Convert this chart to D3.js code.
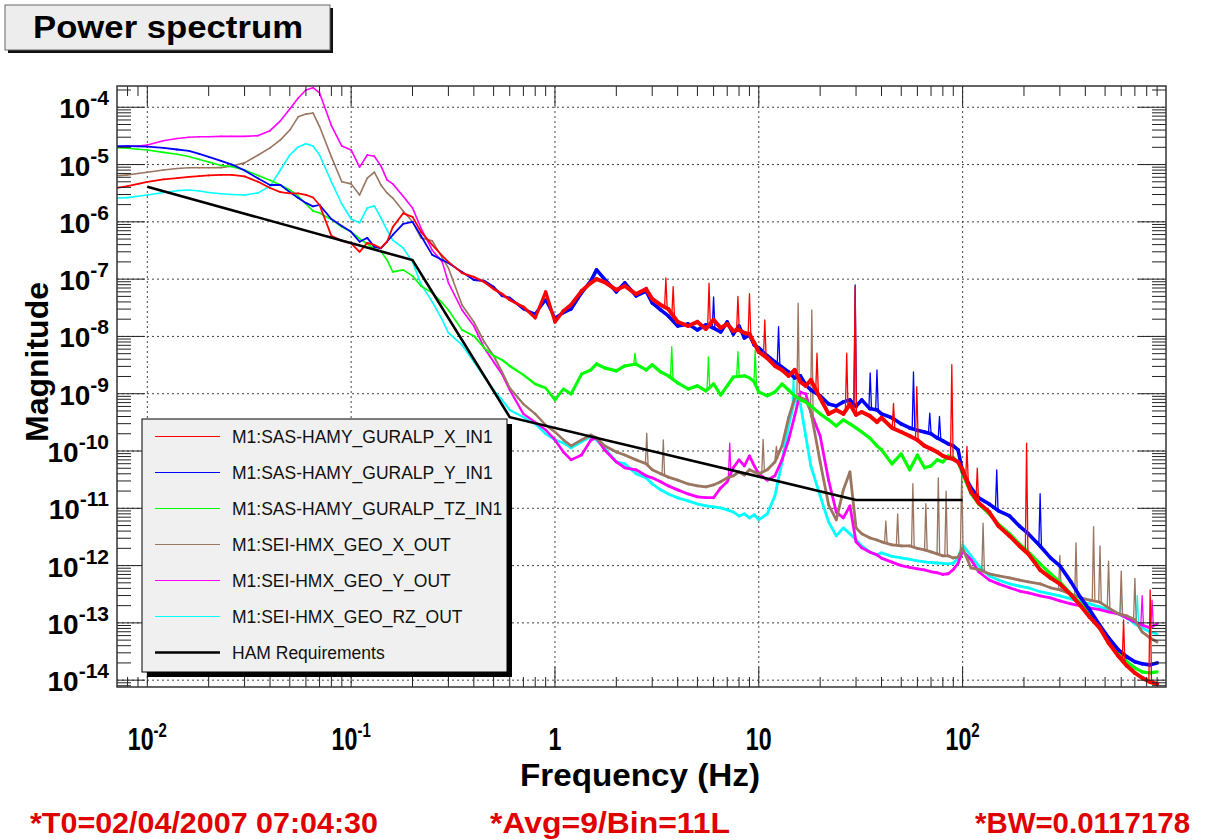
<!DOCTYPE html>
<html>
<head>
<meta charset="utf-8">
<title>Power spectrum</title>
<script src="https://cdn.jsdelivr.net/npm/d3@7"></script>
<style>
  html, body { margin: 0; padding: 0; background: #fff; }
  svg { display: block; font-family: "Liberation Sans", Arial, Helvetica, sans-serif; }
</style>
</head>
<body>
<svg id="chart" width="1210" height="840"></svg>
<script>
(function () {
  'use strict';

  // Frequency grid shared by the six measured spectra (Hz)
  var freq = [
    0.0071, 0.008, 0.009, 0.01, 0.012, 0.014, 0.016, 0.018, 0.02, 0.023, 0.026, 0.03, 0.035, 0.04, 0.045, 0.05, 0.055, 0.06, 0.065, 0.07, 0.08, 0.09, 0.1, 0.11, 0.12, 0.13, 0.14, 0.15, 0.16, 0.18, 0.2, 0.22, 0.25, 0.28, 0.3,
    0.35, 0.4, 0.45, 0.5, 0.55, 0.6, 0.7, 0.8, 0.9, 1, 1.1, 1.2, 1.35, 1.5, 1.6, 1.75, 2, 2.2, 2.5, 2.8, 3, 3.3, 3.6, 4, 4.5, 5, 5.5, 6, 6.5, 7, 7.5, 8, 8.5, 9, 9.5,
    10, 11, 12, 13, 14, 15, 16, 17, 18, 20, 22, 24, 26, 28, 30, 32, 35, 38, 40, 45, 50, 55, 60, 65, 70, 75, 80, 85, 90, 95, 100,
    110, 120, 135, 150, 170, 190, 210, 240, 270, 300, 340, 380, 420, 470, 520, 580, 640, 700, 760, 830, 900
  ];

  var magXIn1 = [
    3.9e-6, 4.2e-6, 4.6e-6, 5.0e-6, 5.5e-6, 5.8e-6, 6.1e-6, 6.3e-6, 6.45e-6, 6.6e-6, 6.6e-6, 6.2e-6, 5.0e-6, 3.9e-6, 3.3e-6, 3.15e-6, 3.15e-6, 2.95e-6, 2.66e-6, 1.97e-6, 5.7e-7, 4.65e-7, 4.2e-7, 3.0e-7, 4.3e-7, 3.95e-7, 3.5e-7, 4.5e-7, 8.1e-7, 1.41e-6, 1.22e-6, 6.7e-7, 3.95e-7, 2.55e-7, 2.0e-7,
    1.28e-7, 1.09e-7, 8.9e-8, 6.75e-8, 5.5e-8, 4.35e-8, 3.27e-8, 2.1e-8, 6.0e-8, 1.79e-8, 2.8e-8, 3.6e-8, 6.2e-8, 8.6e-8, 1.0e-7, 8.9e-8, 6.5e-8, 7.6e-8, 5.5e-8, 6.75e-8, 4.5e-8, 3.55e-8, 3.0e-8, 1.79e-8, 1.52e-8, 1.79e-8, 1.35e-8, 1.94e-8, 1.41e-8, 1.65e-8, 1.25e-8, 1.3e-8, 1.15e-8, 1.1e-8, 7.7e-9,
    5.35e-9, 4.2e-9, 3.05e-9, 2.6e-9, 2.05e-9, 2.6e-9, 1.61e-9, 1.37e-9, 1.74e-9, 8.4e-10, 4.45e-10, 5.2e-10, 4.45e-10, 6.6e-10, 4.3e-10, 4.8e-10, 4.1e-10, 3.2e-10, 3.8e-10, 2.53e-10, 2.15e-10, 1.83e-10, 1.56e-10, 1.23e-10, 1.09e-10, 9.6e-11, 8.2e-11, 7.6e-11, 7.2e-11, 6.45e-11, 4.7e-11,
    1.93e-11, 1.24e-11, 8.6e-12, 4.9e-12, 3.3e-12, 2.2e-12, 1.6e-12, 8.4e-13, 6.1e-13, 4.8e-13, 3.08e-13, 1.98e-13, 1.27e-13, 8.2e-14, 4.5e-14, 2.65e-14, 1.78e-14, 1.34e-14, 1.1e-14, 9.3e-15, 8.6e-15
  ];

  var magYIn1 = [
    2.1e-5, 2.1e-5, 2.08e-5, 2.05e-5, 1.95e-5, 1.83e-5, 1.73e-5, 1.53e-5, 1.36e-5, 1.16e-5, 1.0e-5, 7.9e-6, 5.7e-6, 4.4e-6, 4.4e-6, 3.3e-6, 2.6e-6, 2.14e-6, 1.86e-6, 1.97e-6, 1.12e-6, 8.5e-7, 6.7e-7, 4.5e-7, 5.25e-7, 3.65e-7, 3.45e-7, 4.5e-7, 5.9e-7, 9.2e-7, 1.0e-6, 5.7e-7, 2.65e-7, 2.16e-7, 1.92e-7,
    1.33e-7, 9.7e-8, 9.3e-8, 7.3e-8, 5.1e-8, 4.7e-8, 3.0e-8, 2.47e-8, 4.35e-8, 2.1e-8, 2.6e-8, 3.0e-8, 5.75e-8, 9.3e-8, 1.45e-7, 1.0e-7, 6.0e-8, 8.6e-8, 5.1e-8, 6.2e-8, 3.85e-8, 2.9e-8, 2.28e-8, 1.52e-8, 1.65e-8, 1.3e-8, 1.59e-8, 1.4e-8, 1.2e-8, 1.79e-8, 1.1e-8, 1.52e-8, 9.4e-9, 1.06e-8, 7.1e-9,
    6.3e-9, 4.6e-9, 3.6e-9, 2.9e-9, 2.4e-9, 1.89e-9, 2.05e-9, 1.42e-9, 1.16e-9, 9.2e-10, 6.6e-10, 6.1e-10, 7.2e-10, 7.8e-10, 6.0e-10, 7.8e-10, 5.5e-10, 5.2e-10, 4.45e-10, 3.8e-10, 2.97e-10, 2.53e-10, 2.3e-10, 2.15e-10, 2.0e-10, 1.69e-10, 1.5e-10, 1.33e-10, 1.23e-10, 1.05e-10, 4.3e-11,
    2.27e-11, 1.52e-11, 1.19e-11, 9.0e-12, 7.35e-12, 4.9e-12, 3.6e-12, 2.2e-12, 1.36e-12, 9.9e-13, 5.2e-13, 2.73e-13, 1.69e-13, 9.2e-14, 5.5e-14, 3.4e-14, 2.55e-14, 2.09e-14, 1.93e-14, 1.85e-14, 2.0e-14
  ];

  var magTzIn1 = [
    1.97e-5, 1.93e-5, 1.85e-5, 1.8e-5, 1.63e-5, 1.51e-5, 1.38e-5, 1.23e-5, 1.11e-5, 9.6e-6, 9.2e-6, 8.05e-6, 6.45e-6, 5.3e-6, 4.4e-6, 3.6e-6, 2.8e-6, 2.05e-6, 1.55e-6, 1.43e-6, 1.1e-6, 8.1e-7, 6.7e-7, 5.1e-7, 4.1e-7, 3.4e-7, 3.05e-7, 2.16e-7, 1.34e-7, 1.45e-7, 1.14e-7, 7.6e-8, 5.75e-8, 3.85e-8, 2.9e-8,
    1.3e-8, 1.02e-8, 6.3e-9, 4.6e-9, 3.9e-9, 3.05e-9, 2.13e-9, 1.48e-9, 1.26e-9, 7.8e-10, 1.21e-9, 9.9e-10, 2.2e-9, 2.6e-9, 3.3e-9, 2.82e-9, 2.5e-9, 3.05e-9, 3.3e-9, 2.6e-9, 3.2e-9, 2.4e-9, 2.05e-9, 1.54e-9, 1.21e-9, 1.37e-9, 1.12e-9, 1.48e-9, 9.5e-10, 1.37e-9, 1.96e-9, 2.0e-9, 2.05e-9, 1.89e-9, 1.61e-9,
    1.07e-9, 9.2e-10, 1.07e-9, 1.48e-9, 1.16e-9, 9.2e-10, 7.8e-10, 7.2e-10, 6.1e-10, 4.45e-10, 3.5e-10, 2.74e-10, 3.5e-10, 2.97e-10, 2.53e-10, 2.15e-10, 1.69e-10, 1.23e-10, 1.05e-10, 5.95e-11, 8.9e-11, 4.7e-11, 8.5e-11, 5.1e-11, 5.5e-11, 7.0e-11, 6.45e-11, 8.2e-11, 7.6e-11, 6.45e-11, 4.0e-11,
    1.8e-11, 1.19e-11, 8.0e-12, 5.3e-12, 3.6e-12, 2.4e-12, 1.73e-12, 1.07e-12, 7.2e-13, 5.2e-13, 3.2e-13, 2.15e-13, 1.44e-13, 8.9e-14, 5.05e-14, 3.1e-14, 2.09e-14, 1.64e-14, 1.4e-14, 1.34e-14, 1.4e-14
  ];

  var magGeoX = [
    6.4e-6, 6.6e-6, 7.0e-6, 7.35e-6, 8.05e-6, 8.55e-6, 8.8e-6, 8.8e-6, 8.8e-6, 8.85e-6, 9.45e-6, 1.07e-5, 1.47e-5, 1.95e-5, 2.7e-5, 4.0e-5, 6.8e-5, 7.6e-5, 7.95e-5, 4.6e-5, 1.36e-5, 5.0e-6, 4.6e-6, 2.95e-6, 5.8e-6, 7.4e-6, 4.4e-6, 3.2e-6, 2.6e-6, 1.55e-6, 1.0e-6, 5.25e-7, 4.65e-7, 2.35e-7, 1.57e-7,
    3.55e-8, 1.79e-8, 8.0e-9, 4.6e-9, 2.4e-9, 1.26e-9, 6.6e-10, 4.45e-10, 2.85e-10, 2.15e-10, 1.56e-10, 1.23e-10, 1.56e-10, 1.91e-10, 1.69e-10, 1.23e-10, 9.6e-11, 8.5e-11, 7.0e-11, 6.0e-11, 4.7e-11, 4.0e-11, 3.5e-11, 3.1e-11, 2.66e-11, 2.46e-11, 2.36e-11, 2.56e-11, 2.9e-11, 3.4e-11, 3.7e-11, 4.3e-11, 3.8e-11, 4.7e-11, 4.3e-11,
    4.0e-11, 4.7e-11, 6.45e-11, 1.23e-10, 3.8e-10, 8.4e-10, 8.6e-10, 7.8e-10, 4.9e-10, 6.45e-11, 1.15e-11, 6.3e-12, 2.1e-11, 4.3e-11, 4.55e-12, 3.6e-12, 3.05e-12, 2.8e-12, 2.6e-12, 2.3e-12, 2.2e-12, 2.2e-12, 2.0e-12, 1.88e-12, 1.73e-12, 1.6e-12, 1.48e-12, 1.48e-12, 1.36e-12, 1.4e-12, 2.0e-12,
    9.1e-13, 8.5e-13, 7.2e-13, 6.6e-13, 6.1e-13, 5.6e-13, 5.2e-13, 4.8e-13, 4.1e-13, 3.77e-13, 3.2e-13, 2.73e-13, 2.5e-13, 2.3e-13, 1.83e-13, 1.44e-13, 1.32e-13, 1.13e-13, 6.95e-14, 5.5e-14, 4.65e-14
  ];

  var magGeoY = [
    2.05e-5, 2.1e-5, 2.1e-5, 2.2e-5, 2.6e-5, 2.85e-5, 3.0e-5, 3.05e-5, 3.05e-5, 3.1e-5, 3.1e-5, 3.1e-5, 3.2e-5, 3.9e-5, 5.8e-5, 9.3e-5, 1.45e-4, 2.0e-4, 2.2e-4, 1.78e-4, 4.8e-5, 2.1e-5, 1.8e-5, 9.0e-6, 1.47e-5, 1.4e-5, 9.5e-6, 5.4e-6, 4.6e-6, 2.8e-6, 1.75e-6, 7.8e-7, 3.2e-7, 2.0e-7, 8.6e-8,
    2.9e-8, 1.52e-8, 6.3e-9, 3.6e-9, 2.2e-9, 1.16e-9, 4.45e-10, 3.2e-10, 2.34e-10, 1.56e-10, 9.6e-11, 7.0e-11, 8.5e-11, 1.56e-10, 1.69e-10, 1.05e-10, 6.45e-11, 5.1e-11, 4.7e-11, 3.7e-11, 3.4e-11, 2.9e-11, 2.46e-11, 2.1e-11, 1.78e-11, 1.58e-11, 1.53e-11, 1.53e-11, 2.27e-11, 2.9e-11, 5.1e-11, 7.0e-11, 5.5e-11, 8.2e-11, 5.5e-11,
    4.0e-11, 3.1e-11, 3.7e-11, 7.0e-11, 1.56e-10, 4.1e-10, 1.07e-9, 9.9e-10, 4.8e-10, 1.83e-10, 3.1e-11, 8.6e-12, 6.8e-12, 1.1e-11, 2.6e-12, 2.04e-12, 1.73e-12, 1.54e-12, 1.35e-12, 1.15e-12, 1.0e-12, 9.3e-13, 8.8e-13, 8.4e-13, 7.8e-13, 7.5e-13, 7.0e-13, 7.2e-13, 8.5e-13, 1.1e-12, 1.8e-12,
    1.26e-12, 7.8e-13, 5.6e-13, 4.8e-13, 4.1e-13, 3.6e-13, 3.34e-13, 2.96e-13, 2.73e-13, 2.42e-13, 2.15e-13, 1.98e-13, 1.83e-13, 1.7e-13, 1.56e-13, 1.44e-13, 1.22e-13, 1.04e-13, 9.2e-14, 8.2e-14, 9.6e-14
  ];

  var magGeoRz = [
    2.6e-6, 2.65e-6, 2.8e-6, 2.95e-6, 3.25e-6, 3.5e-6, 3.6e-6, 3.45e-6, 3.25e-6, 3.1e-6, 3.0e-6, 2.95e-6, 3.2e-6, 4.2e-6, 8.05e-6, 1.47e-5, 2.03e-5, 2.3e-5, 2.1e-5, 1.47e-5, 5.0e-6, 2.05e-6, 1.12e-6, 9.6e-7, 1.75e-6, 1.9e-6, 1.17e-6, 7.2e-7, 4.8e-7, 3.5e-7, 2.0e-7, 8.2e-8, 4.0e-8, 1.94e-8, 1.15e-8,
    7.1e-9, 3.6e-9, 1.96e-9, 1.16e-9, 7.8e-10, 5.2e-10, 3.9e-10, 2.97e-10, 1.99e-10, 1.56e-10, 1.38e-10, 1.13e-10, 1.44e-10, 1.8e-10, 1.56e-10, 1.13e-10, 6.45e-11, 5.95e-11, 4.0e-11, 3.4e-11, 2.66e-11, 2.1e-11, 1.78e-11, 1.52e-11, 1.35e-11, 1.19e-11, 1.1e-11, 1.06e-11, 1.02e-11, 9.4e-12, 8.6e-12, 7.35e-12, 8.0e-12, 6.8e-12, 7.7e-12,
    6.3e-12, 8.0e-12, 1.65e-11, 6.45e-11, 2.74e-10, 7.8e-10, 6.6e-10, 1.83e-10, 5.5e-11, 1.65e-11, 5.8e-12, 3.3e-12, 4.55e-12, 3.6e-12, 2.8e-12, 2.2e-12, 1.73e-12, 1.54e-12, 1.67e-12, 1.45e-12, 1.36e-12, 1.28e-12, 1.21e-12, 1.16e-12, 1.13e-12, 1.11e-12, 1.09e-12, 1.07e-12, 1.1e-12, 1.36e-12, 2.3e-12,
    1.48e-12, 9.9e-13, 6.6e-13, 5.6e-13, 4.8e-13, 4.4e-13, 4.1e-13, 3.5e-13, 3.2e-13, 2.96e-13, 2.63e-13, 2.32e-13, 2.15e-13, 1.9e-13, 1.69e-13, 1.44e-13, 1.22e-13, 9.6e-14, 8.2e-14, 6.95e-14, 6.4e-14
  ];

  // Narrow line peaks: [frequency, peak magnitude]
  var spikesXIn1 = [[3.5, 1.05e-7], [3.8, 7.4e-8], [5.7, 8.5e-8], [7.9, 5.0e-8], [9.0, 5.6e-8], [10.7, 1.94e-8], [19.3, 5.1e-9], [27, 5.1e-9], [29.7, 7.4e-8], [45.8, 6.8e-10], [59.6, 1.33e-9], [88.5, 3.2e-9], [105, 1.2e-10], [118, 5e-11], [206, 1.37e-10], [616, 1.13e-13], [832, 3.77e-13]];
  var spikesYIn1 = [[6.0, 4.9e-8], [12.5, 1.48e-8], [29.7, 7.9e-8], [35.2, 2.3e-9], [38, 2.6e-9], [57.4, 2.4e-9], [69, 4.6e-10], [77, 4.0e-10], [147, 4.7e-11], [240, 1.8e-11]];
  var spikesTzIn1 = [[2.47, 5.1e-9], [3.74, 6.6e-9], [5.66, 4.4e-9], [7.9, 5.4e-9], [9.6, 5.8e-9]];
  var spikesGeoX = [[2.82, 2.04e-10], [3.4, 1.56e-10], [10.5, 1.6e-10], [12.2, 1.2e-10], [15.6, 3.8e-8], [18.2, 2.9e-8], [42, 6e-12], [48, 8e-12], [57, 2.7e-11], [66, 1.2e-11], [76, 3.4e-11], [83, 2e-11], [99, 4.5e-11], [126, 5.5e-12], [300, 1.5e-12], [360, 2.5e-12], [439, 4.8e-12], [472, 2.2e-12], [520, 1.2e-12], [600, 8e-13], [700, 6e-13]];
  var spikesGeoY = [[7.2, 1.37e-10], [760, 3.0e-13], [850, 2.5e-13]];
  var spikesGeoRz = [[14.8, 2.6e-9], [600, 3.5e-13], [720, 3.0e-13]];

  // HAM requirement curve (break points)
  var hamFreq = [0.01, 0.2, 0.6, 30, 100];
  var hamMag = [4.1e-6, 2.15e-7, 3.9e-10, 1.4e-11, 1.4e-11];

  var seriesNames = [
    'M1:SAS-HAMY_GURALP_X_IN1',
    'M1:SAS-HAMY_GURALP_Y_IN1',
    'M1:SAS-HAMY_GURALP_TZ_IN1',
    'M1:SEI-HMX_GEO_X_OUT',
    'M1:SEI-HMX_GEO_Y_OUT',
    'M1:SEI-HMX_GEO_RZ_OUT',
    'HAM Requirements'
  ];
  var seriesColors = ['#ff0000', '#0000ff', '#00ff00', '#9a7560', '#ff00ff', '#00ffff', '#000000'];
  // line width of the smooth low-frequency part and of the noisy band above ~1 Hz
  var thinWidths = [1.8, 1.8, 1.6, 1.6, 1.6, 1.6];
  var bandWidths = [4.0, 3.6, 3.2, 2.8, 2.8, 2.8];

  var xTickValues = [0.01, 0.1, 1, 10, 100];
  var xTickBase = ['10', '10', '1', '10', '10'];
  var xTickExp = ['-2', '-1', '', '', '2'];
  var yTickExps = [-4, -5, -6, -7, -8, -9, -10, -11, -12, -13, -14];

  var footerTexts = ['*T0=02/04/2007 07:04:30', '*Avg=9/Bin=11L', '*BW=0.0117178'];

  var frame = { left: 117, top: 86, right: 1166, bottom: 687 };

  var svg = d3.select('#chart');

  var x = d3.scaleLog().domain([0.0071, 995]).range([frame.left, frame.right]);
  var y = d3.scaleLog().domain([7.6e-15, 2.35e-4]).range([frame.bottom, frame.top]);

  function isDecade(v) {
    var l = Math.log10(v);
    return Math.abs(l - Math.round(l)) < 1e-9;
  }

  // Title box
  var title = svg.append('g');
  title.append('rect')
    .attr('x', 8).attr('y', 8).attr('width', 325).attr('height', 45)
    .attr('fill', '#111');
  title.append('rect')
    .attr('x', 5).attr('y', 5).attr('width', 325).attr('height', 45)
    .attr('fill', '#ededed').attr('stroke', '#666').attr('stroke-width', 1);
  title.append('text')
    .attr('x', 33).attr('y', 38)
    .attr('font-size', 31).attr('font-weight', 'bold')
    .attr('textLength', 270).attr('lengthAdjust', 'spacingAndGlyphs')
    .text('Power spectrum');

  // Clip for the traces
  svg.append('defs').append('clipPath').attr('id', 'plot-clip')
    .append('rect')
    .attr('x', frame.left).attr('y', frame.top)
    .attr('width', frame.right - frame.left).attr('height', frame.bottom - frame.top);

  // Grid (dotted, decades only)
  var grid = svg.append('g').attr('stroke', '#444').attr('stroke-width', 1).attr('stroke-dasharray', '2,3');
  var xTicks = x.ticks();
  var yTicks = y.ticks(20);

  grid.selectAll('line.gx')
    .data(xTicks.filter(isDecade))
    .enter().append('line')
    .attr('class', 'gx')
    .attr('x1', function (d) { return x(d); }).attr('x2', function (d) { return x(d); })
    .attr('y1', frame.top).attr('y2', frame.bottom);

  grid.selectAll('line.gy')
    .data(yTicks.filter(isDecade))
    .enter().append('line')
    .attr('class', 'gy')
    .attr('y1', function (d) { return y(d); }).attr('y2', function (d) { return y(d); })
    .attr('x1', frame.left).attr('x2', frame.right);

  // Traces
  var line = d3.line()
    .x(function (d) { return x(d[0]); })
    .y(function (d) { return y(d[1]); });

  // width grows from the thin low-frequency trace to the noisy band (0.3 Hz .. 1.5 Hz)
  var bandMix = d3.scaleLog().domain([0.3, 1.5]).range([0, 1]).clamp(true);

  var allMags = [magXIn1, magYIn1, magTzIn1, magGeoX, magGeoY, magGeoRz];
  var allSpikes = [spikesXIn1, spikesYIn1, spikesTzIn1, spikesGeoX, spikesGeoY, spikesGeoRz];
  var drawOrder = [5, 4, 3, 2, 1, 0];
  var traces = svg.append('g').attr('clip-path', 'url(#plot-clip)');
  var freqPx = freq.map(function (f) { return x(f); });

  drawOrder.forEach(function (i) {
    var g = traces.append('g')
      .attr('stroke', seriesColors[i])
      .attr('fill', 'none')
      .attr('stroke-linecap', 'round')
      .attr('stroke-linejoin', 'round');

    var pts = freq.map(function (f, k) { return [f, allMags[i][k]]; });
    g.selectAll('path.seg')
      .data(d3.pairs(pts))
      .enter().append('path')
      .attr('class', 'seg')
      .attr('d', function (p) { return line(p); })
      .attr('stroke-width', function (p) {
        var m = bandMix(p[0][0]);
        return thinWidths[i] + (bandWidths[i] - thinWidths[i]) * m;
      });

    // spikes rise from the drawn trace at their frequency
    var tracePx = d3.scaleLinear()
      .domain(freqPx)
      .range(allMags[i].map(function (m) { return y(m); }));
    var spikePath = d3.path();
    allSpikes[i].forEach(function (s) {
      var sx = x(s[0]);
      var base = tracePx(sx);
      spikePath.moveTo(sx - 1.3, base);
      spikePath.lineTo(sx, y(s[1]));
      spikePath.lineTo(sx + 1.3, base);
    });
    g.append('path')
      .attr('d', spikePath.toString())
      .attr('stroke-width', 1.3);
  });

  traces.append('path')
    .datum(hamFreq.map(function (f, k) { return [f, hamMag[k]]; }))
    .attr('d', line)
    .attr('fill', 'none')
    .attr('stroke', seriesColors[6])
    .attr('stroke-width', 2.6);

  // Ticks (ROOT style, inside frame on all four sides)
  var ticks = svg.append('g').attr('stroke', '#222').attr('stroke-width', 1);
  xTicks.forEach(function (t) {
    var len = isDecade(t) ? 20 : 10;
    var px = x(t);
    ticks.append('line').attr('x1', px).attr('x2', px).attr('y1', frame.bottom).attr('y2', frame.bottom - len);
    ticks.append('line').attr('x1', px).attr('x2', px).attr('y1', frame.top).attr('y2', frame.top + len);
  });
  yTicks.forEach(function (t) {
    var len = isDecade(t) ? 28 : 14;
    var py = y(t);
    ticks.append('line').attr('y1', py).attr('y2', py).attr('x1', frame.left).attr('x2', frame.left + len);
    ticks.append('line').attr('y1', py).attr('y2', py).attr('x1', frame.right).attr('x2', frame.right - len);
  });

  // Frame
  svg.append('rect')
    .attr('x', frame.left).attr('y', frame.top)
    .attr('width', frame.right - frame.left).attr('height', frame.bottom - frame.top)
    .attr('fill', 'none').attr('stroke', '#333').attr('stroke-width', 1.5);

  // Y tick labels
  yTickExps.forEach(function (e) {
    var t = svg.append('text')
      .attr('x', 109).attr('y', y(Math.pow(10, e)) + 11)
      .attr('text-anchor', 'end')
      .attr('font-weight', 'bold').attr('font-size', 28);
    t.append('tspan').text('10');
    t.append('tspan').attr('font-size', 21).attr('dy', -13).text(String(e));
  });

  // X tick labels (narrow, as in the original)
  xTickValues.forEach(function (v, i) {
    var g = svg.append('g')
      .attr('transform', 'translate(' + x(v) + ',750) scale(0.75,1)');
    var t = g.append('text')
      .attr('text-anchor', 'middle')
      .attr('font-weight', 'bold').attr('font-size', 31);
    t.append('tspan').text(xTickBase[i]);
    if (xTickExp[i]) {
      t.append('tspan').attr('font-size', 20).attr('dy', -13).text(xTickExp[i]);
    }
  });

  // Axis titles
  svg.append('text')
    .attr('x', 640).attr('y', 786)
    .attr('text-anchor', 'middle')
    .attr('font-weight', 'bold').attr('font-size', 32)
    .attr('textLength', 240).attr('lengthAdjust', 'spacingAndGlyphs')
    .text('Frequency (Hz)');

  svg.append('text')
    .attr('transform', 'translate(48,362) rotate(-90)')
    .attr('text-anchor', 'middle')
    .attr('font-weight', 'bold').attr('font-size', 32)
    .text('Magnitude');

  // Legend
  var legend = svg.append('g');
  legend.append('rect')
    .attr('x', 147).attr('y', 424).attr('width', 365).attr('height', 253)
    .attr('fill', '#000');
  legend.append('rect')
    .attr('x', 142).attr('y', 419).attr('width', 365).attr('height', 253)
    .attr('fill', '#f0f0f0').attr('stroke', '#000').attr('stroke-width', 1);

  seriesNames.forEach(function (name, i) {
    var ly = 436.5 + i * 36;
    legend.append('line')
      .attr('x1', 155).attr('x2', 220).attr('y1', ly).attr('y2', ly)
      .attr('stroke', seriesColors[i])
      .attr('stroke-width', i === 6 ? 2.6 : 1.2);
    legend.append('text')
      .attr('x', 232).attr('y', ly + 6)
      .attr('font-size', 17.5)
      .attr('fill', '#111')
      .text(name);
  });

  // Footer parameters
  var footer = svg.append('g').attr('fill', '#e00000').attr('font-weight', 'bold').attr('font-size', 30);
  footer.append('text').attr('x', 30).attr('y', 833)
    .attr('textLength', 348).attr('lengthAdjust', 'spacingAndGlyphs').text(footerTexts[0]);
  footer.append('text').attr('x', 490).attr('y', 833)
    .attr('textLength', 240).attr('lengthAdjust', 'spacingAndGlyphs').text(footerTexts[1]);
  footer.append('text').attr('x', 975).attr('y', 833)
    .attr('textLength', 215).attr('lengthAdjust', 'spacingAndGlyphs').text(footerTexts[2]);
})();
</script>
</body>
</html>
